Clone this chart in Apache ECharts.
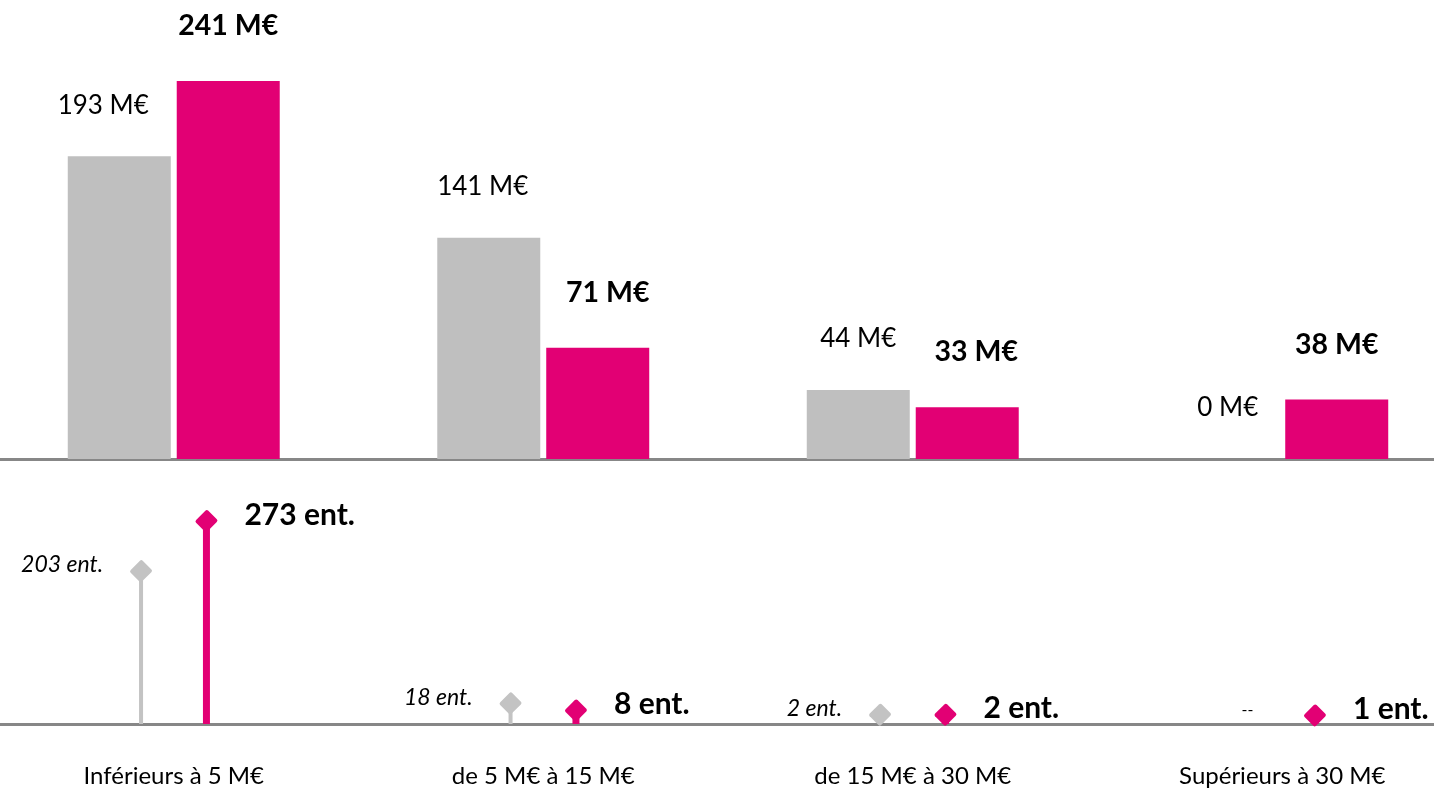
<!DOCTYPE html>
<html>
<head>
<meta charset="utf-8">
<script src="https://cdn.jsdelivr.net/npm/echarts@6/dist/echarts.min.js"></script>
<style>
  html, body { margin: 0; padding: 0; background: #fff; overflow: hidden; }
  /* zone de tracé un peu plus large que la fenêtre, comme l'original */
  #chart { width: 1478px; height: 789px; margin-left: -11px; }
</style>
</head>
<body>
<div id="chart"></div>
<script>
// données
const categories = ['Inférieurs à 5 M€', 'de 5 M€ à 15 M€', 'de 15 M€ à 30 M€', 'Supérieurs à 30 M€']
const prevAmounts = [193, 141, 44, 0]
const curAmounts = [241, 71, 33, 38]
const prevCounts = [203, 18, 2, null]
const curCounts = [273, 8, 2, 1]

const GRAY = '#bfbfbf'
const MAGENTA = '#e20074'
const AXIS = '#878787'
const FONT = 'Lato'

const chart = echarts.init(document.getElementById('chart'))

// décalage horizontal des étiquettes (comme dans l'original)
const prevShift = [-16, -6, 0, 0]
const curShift = [0, 10, 9, 0]

function lollipop(values, color, side, stemW, textStyle) {
  return {
    type: 'custom',
    xAxisIndex: 1,
    yAxisIndex: 1,
    data: values.map((v, i) => [i, v == null ? 0 : v]),
    renderItem(params, api) {
      const cs = params.coordSys
      const idx = api.value(0)
      const band = api.size([1, 0])[0]
      const cx = api.coord([idx, 0])[0] + side * band * 0.0885
      const baseY = cs.y + cs.height
      const raw = values[params.dataIndex]
      if (raw == null) {
        return {
          type: 'text',
          x: cx - 2,
          y: api.coord([idx, 0])[1] - 6,
          style: { text: '--', fill: '#000', font: '16px ' + FONT, align: 'center', verticalAlign: 'middle' }
        }
      }
      const y = api.coord([idx, raw])[1]
      return {
        type: 'group',
        children: [
          {
            type: 'line',
            shape: { x1: cx, y1: baseY, x2: cx, y2: y },
            style: { stroke: color, lineWidth: stemW }
          },
          {
            type: 'rect',
            x: cx, y: y,
            rotation: Math.PI / 4,
            scaleY: 0.95,
            shape: { x: -8.5, y: -8.5, width: 17, height: 17, r: 2 },
            style: { fill: color }
          },
          {
            type: 'text',
            x: cx + side * 38,
            y: y - 6,
            style: Object.assign({
              text: raw + ' ent.',
              fill: '#000',
              align: side > 0 ? 'left' : 'right',
              verticalAlign: 'middle'
            }, textStyle)
          }
        ]
      }
    }
  }
}

const option = {
  animation: false,
  backgroundColor: '#fff',
  grid: [
    { left: 0, right: 0, top: 81, height: 378 },
    { left: 0, right: 0, top: 521, height: 203 }
  ],
  xAxis: [
    {
      type: 'category', gridIndex: 0, data: categories,
      axisLine: { onZero: false, lineStyle: { color: AXIS, width: 3 } },
      axisTick: { show: false }, axisLabel: { show: false }
    },
    {
      type: 'category', gridIndex: 1, data: categories,
      axisLine: { onZero: false, lineStyle: { color: AXIS, width: 3 } },
      axisTick: { show: false },
      axisLabel: { color: '#000', fontFamily: FONT, fontSize: 24, margin: 40 }
    }
  ],
  yAxis: [
    { type: 'value', gridIndex: 0, min: 0, max: 241, show: false },
    { type: 'value', gridIndex: 1, min: -11, max: 273, show: false }
  ],
  series: [
    {
      type: 'bar', xAxisIndex: 0, yAxisIndex: 0,
      barWidth: 103, barGap: '5.8%',
      itemStyle: { color: GRAY },
      data: prevAmounts.map((v, i) => ({
        value: v,
        label: { offset: [prevShift[i], 0] }
      })),
      label: {
        show: true, position: 'top', distance: 38,
        formatter: '{c} M€', color: '#000',
        fontFamily: FONT, fontSize: 26, lineHeight: 26
      }
    },
    {
      type: 'bar', xAxisIndex: 0, yAxisIndex: 0,
      barWidth: 103,
      itemStyle: { color: MAGENTA },
      data: curAmounts.map((v, i) => ({
        value: v,
        label: { offset: [curShift[i], 0] }
      })),
      label: {
        show: true, position: 'top', distance: 41,
        formatter: '{c} M€', color: '#000',
        fontFamily: FONT, fontWeight: 'bold', fontSize: 28.5, lineHeight: 28
      }
    },
    lollipop(prevCounts, '#c3c3c3', -1, 4, { font: 'italic 23px ' + FONT }),
    lollipop(curCounts, MAGENTA, 1, 7, { font: 'bold 30px ' + FONT })
  ]
}

chart.setOption(option)
</script>
</body>
</html>
